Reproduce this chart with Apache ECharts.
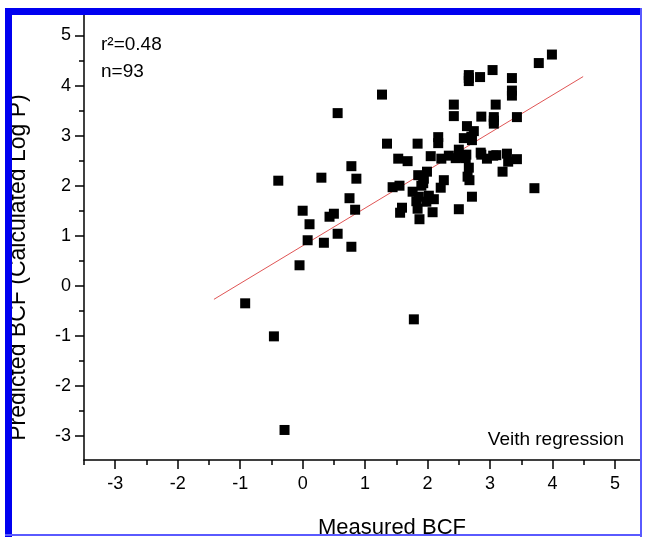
<!DOCTYPE html>
<html>
<head>
<meta charset="utf-8">
<script src="https://cdn.jsdelivr.net/npm/echarts@6/dist/echarts.min.js"></script>
<style>
html,body{margin:0;padding:0;background:#fff;}
#chart{width:645px;height:537px;}
</style>
</head>
<body>
<div id="chart"></div>
<script>
// Tick values
const xTicks = [-3, -2, -1, 0, 1, 2, 3, 4, 5];
const xMinorTicks = [-3.5, -2.5, -1.5, -0.5, 0.5, 1.5, 2.5, 3.5, 4.5];
const yTicks = [-3, -2, -1, 0, 1, 2, 3, 4, 5];
const yMinorTicks = [-2.5, -1.5, -0.5, 0.5, 1.5, 2.5, 3.5, 4.5];

// Measured BCF (x) and predicted BCF (y)
const measured = [
  3.99, 3.78, 3.04, 2.66, 2.66, 2.84, 3.35, 3.35, 3.35, 1.27,
  2.42, 2.42, 3.09, 3.06, 3.06, 2.86, 3.43, 0.56, 2.63, 2.74,
  2.58, 2.71, 2.17, 2.17, 1.84, 1.35, 2.50, 2.53, 2.61, 2.85,
  2.95, 3.10, 3.27, 3.29, 3.43, 3.20, 1.53, 1.68, 2.05, 2.22,
  2.34, 2.66, 2.64, 2.67, 1.99, 1.85, 1.94, 1.93, 2.26, 2.21,
  1.44, 1.55, 1.76, 1.86, 1.82, 1.84, 1.87, 2.10, 1.98, 2.08,
  1.59, 1.56, 2.50, 2.71, 3.71, -0.39, 0.30, 0.78, 0.86, 0.75,
  0.00, 0.43, 0.50, 0.84, 0.11, 0.08, 0.34, 0.56, 0.78, -0.05,
  -0.92, -0.46, -0.29, 1.78, 2.70, 2.62, 2.02, 2.86, 3.05, 1.90,
  2.45, 2.66, 3.06
];
const predicted = [
  4.62, 4.45, 4.31, 4.21, 4.09, 4.17, 4.15, 3.90, 3.80, 3.82,
  3.62, 3.39, 3.62, 3.37, 3.24, 3.38, 3.37, 3.45, 3.19, 3.09,
  2.95, 2.91, 2.97, 2.85, 2.84, 2.84, 2.72, 2.56, 2.55, 2.66,
  2.54, 2.61, 2.64, 2.48, 2.53, 2.28, 2.54, 2.49, 2.59, 2.54,
  2.60, 2.36, 2.18, 2.11, 2.28, 2.21, 2.14, 2.05, 2.11, 1.96,
  1.97, 2.00, 1.88, 1.78, 1.69, 1.54, 1.33, 1.73, 1.68, 1.47,
  1.56, 1.46, 1.53, 1.78, 1.95, 2.10, 2.16, 2.39, 2.14, 1.75,
  1.50, 1.38, 1.44, 1.52, 1.23, 0.91, 0.86, 1.04, 0.78, 0.41,
  -0.35, -1.01, -2.88, -0.67, 2.98, 2.62, 1.80, 2.62, 2.60, 2.00,
  2.55, 4.15, 3.30
];

// Regression line end points
const fitX = [-1.42, 4.49];
const fitY = [-0.27, 4.18];

const FONT = '"Liberation Sans", Arial, sans-serif';

const chart = echarts.init(document.getElementById('chart'), null, {renderer: 'canvas'});

const scatterData = measured.map((x, i) => [x, predicted[i]]);
const fitData = fitX.map((x, i) => [x, fitY[i]]);

const axisLineStyle = {color: '#000', width: 1.5};
const Y_MIN = -3.48, Y_MAX = 5.45, X_MIN = -3.5, X_MAX = 5.4;

chart.setOption({
  animation: false,
  backgroundColor: '#fff',
  grid: {left: 84, top: 13, right: 5, bottom: 77, containLabel: false, outerBoundsMode: 'none'},
  title: [
    {
      text: 'r²=0.48\nn=93',
      left: 101, top: 31, padding: 0,
      textStyle: {fontFamily: FONT, fontWeight: 'normal', color: '#000', fontSize: 19, lineHeight: 27}
    },
    {
      text: 'Veith regression',
      right: 21, top: 430, padding: 0,
      textStyle: {fontFamily: FONT, fontWeight: 'normal', color: '#000', fontSize: 19}
    }
  ],
  xAxis: [
    {
      type: 'value', min: X_MIN, max: X_MAX, position: 'bottom',
      name: 'Measured BCF', nameLocation: 'middle', nameGap: 57,
      nameTextStyle: {fontFamily: FONT, fontSize: 22, color: '#000', padding: [0, 0, 0, 60]},
      axisLine: {show: true, onZero: false, lineStyle: axisLineStyle},
      axisTick: {show: true, inside: false, length: 9, customValues: xTicks, lineStyle: axisLineStyle},
      axisLabel: {show: true, customValues: xTicks, margin: 15, fontFamily: FONT, fontSize: 18, color: '#000'},
      splitLine: {show: false}
    },
    {
      type: 'value', min: X_MIN, max: X_MAX, position: 'bottom', offset: 0,
      axisLine: {show: false, onZero: false},
      axisTick: {show: true, inside: false, length: 5, customValues: xMinorTicks, lineStyle: axisLineStyle},
      axisLabel: {show: false},
      splitLine: {show: false}
    }
  ],
  yAxis: [
    {
      type: 'value', min: Y_MIN, max: Y_MAX, position: 'left',
      name: 'Predicted BCF (Calculated Log P)', nameLocation: 'middle', nameGap: 54,
      nameTextStyle: {fontFamily: FONT, fontSize: 23, color: '#000', padding: [0, 62, 0, 0]},
      axisLine: {show: true, onZero: false, lineStyle: axisLineStyle},
      axisTick: {show: true, inside: false, length: 9, customValues: yTicks, lineStyle: axisLineStyle},
      axisLabel: {show: true, customValues: yTicks, margin: 13, fontFamily: FONT, fontSize: 18, color: '#000'},
      splitLine: {show: false}
    },
    {
      type: 'value', min: Y_MIN, max: Y_MAX, position: 'left', offset: 0,
      axisLine: {show: false, onZero: false},
      axisTick: {show: true, inside: false, length: 5, customValues: yMinorTicks, lineStyle: axisLineStyle},
      axisLabel: {show: false},
      splitLine: {show: false}
    }
  ],
  series: [
    {
      type: 'line', data: fitData, xAxisIndex: 0, yAxisIndex: 0,
      symbol: 'none', lineStyle: {color: '#e05555', width: 1}, z: 1
    },
    {
      type: 'scatter', data: scatterData, xAxisIndex: 0, yAxisIndex: 0,
      symbol: 'rect', symbolSize: 10,
      itemStyle: {color: '#000', opacity: 1}, z: 2
    }
  ],
  graphic: [
    {type: 'rect', shape: {x: 5, y: 8, width: 637, height: 7}, style: {fill: '#0000f0'}, z: 100},
    {type: 'rect', shape: {x: 5, y: 8, width: 7, height: 529}, style: {fill: '#0000f0'}, z: 100},
    {type: 'rect', shape: {x: 640, y: 8, width: 2, height: 529}, style: {fill: '#5a5aff'}, z: 100},
    {type: 'rect', shape: {x: 5, y: 534, width: 637, height: 2}, style: {fill: '#5a5aff'}, z: 100}
  ]
});
</script>
</body>
</html>
